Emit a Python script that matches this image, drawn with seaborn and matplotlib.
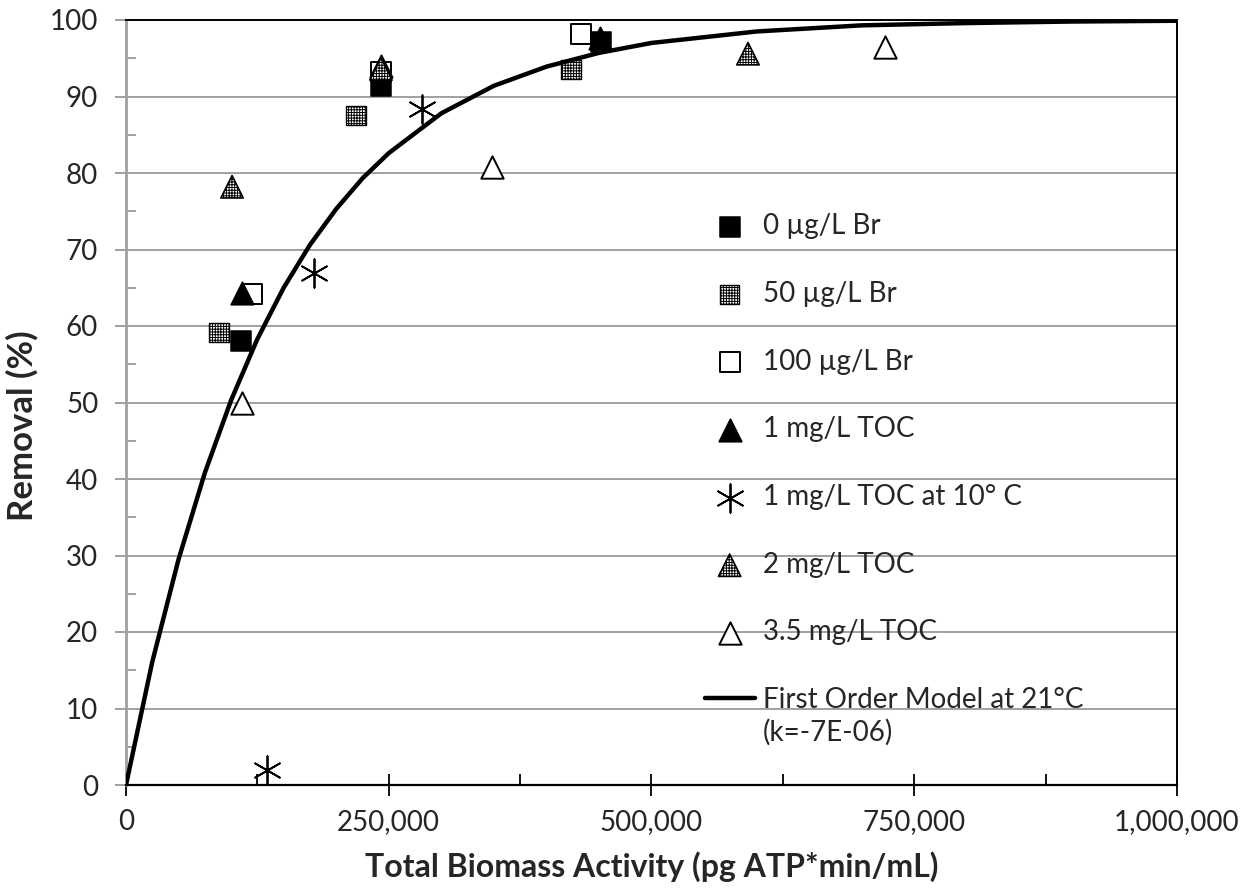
import numpy as np
import pandas as pd
import seaborn as sns
import matplotlib.pyplot as plt
from matplotlib.ticker import MultipleLocator, FuncFormatter

sns.set_style('white')
plt.rcParams['font.family'] = ['Lato', 'DejaVu Sans']
plt.rcParams['hatch.linewidth'] = 0.7

# Données
br0_x = [109400, 242600, 452000]
br0_y = [58.0, 91.4, 97.1]
br50_x = [88500, 218800, 423400]
br50_y = [59.2, 87.5, 93.5]
br100_x = [119900, 242600, 432900]
br100_y = [64.2, 93.2, 98.2]
toc1_x = [110400, 242600, 451000]
toc1_y = [64.3, 94.0, 97.6]
toc1_10c_x = [134200, 178900, 281600]
toc1_10c_y = [1.9, 66.9, 88.4]
toc2_x = [100900, 242600, 591800]
toc2_y = [78.2, 93.6, 95.6]
toc35_x = [110400, 348200, 722000]
toc35_y = [49.9, 80.8, 96.5]

# Modèle du premier ordre
model_x = [0, 25000, 50000, 75000, 100000, 125000, 150000, 175000, 200000, 225000,
           250000, 300000, 350000, 400000, 450000, 500000, 600000, 700000, 800000,
           900000, 1000000]
model_y = [0, 16.1, 29.5, 40.8, 50.3, 58.3, 65.0, 70.6, 75.3, 79.3,
           82.6, 87.8, 91.4, 93.9, 95.7, 97.0, 98.5, 99.3, 99.6, 99.8, 99.9]

fig = plt.figure(figsize=(12.46, 8.9), dpi=100)
ax = fig.add_axes([126 / 1246, 1 - 785 / 890, (1177 - 126) / 1246, (785 - 20) / 890])

ax.yaxis.grid(True, color='#a0a0a0', linewidth=1.4)
ax.set_axisbelow(True)

series = [
    (br0_x, br0_y, '0 µg/L Br', dict(marker='s', color='black', edgecolor='black', s=190)),
    (br50_x, br50_y, '50 µg/L Br', dict(marker='s', color='white', edgecolor='black', s=190, hatch='++++++', linewidth=1.0)),
    (br100_x, br100_y, '100 µg/L Br', dict(marker='s', color='white', edgecolor='black', s=190, linewidth=1.4)),
    (toc1_x, toc1_y, '1 mg/L TOC', dict(marker='^', color='black', edgecolor='black', s=260)),
    (toc1_10c_x, toc1_10c_y, '1 mg/L TOC at 10° C', dict(marker=(6, 2, 0), color='black', s=420, linewidth=1.3)),
    (toc2_x, toc2_y, '2 mg/L TOC', dict(marker='^', color='white', edgecolor='black', s=260, hatch='++++++', linewidth=1.2)),
    (toc35_x, toc35_y, '3.5 mg/L TOC', dict(marker='^', color='white', edgecolor='black', s=260, linewidth=1.4)),
]

for xs, ys, lab, kw in series:
    df = pd.DataFrame({'x': xs, 'y': ys})
    sns.scatterplot(data=df, x='x', y='y', ax=ax, label=lab, zorder=3, **kw)

dfm = pd.DataFrame({'x': model_x, 'y': model_y})
sns.lineplot(data=dfm, x='x', y='y', ax=ax, color='black', linewidth=3.2,
             label='First Order Model at 21°C', zorder=4)

ax.set_xlim(0, 1000000)
ax.set_ylim(0, 100)
ax.xaxis.set_major_locator(MultipleLocator(250000))
ax.xaxis.set_minor_locator(MultipleLocator(125000))
ax.yaxis.set_major_locator(MultipleLocator(10))
ax.yaxis.set_minor_locator(MultipleLocator(5))
ax.xaxis.set_major_formatter(FuncFormatter(lambda v, p: f'{int(v):,}'))

ax.tick_params(axis='x', which='major', direction='inout', length=16, width=1.3,
               color='black', labelsize=20, pad=9, bottom=True)
ax.tick_params(axis='x', which='minor', direction='in', length=8, width=1.3,
               color='black', bottom=True)
ax.tick_params(axis='y', which='major', direction='out', length=8, width=1.4,
               color='#a0a0a0', labelsize=20, pad=12, left=True)
ax.tick_params(axis='y', which='minor', direction='in', length=7, width=1.4,
               color='#a0a0a0', left=True)

for side in ['top', 'right', 'bottom']:
    ax.spines[side].set_color('black')
    ax.spines[side].set_linewidth(1.4)
ax.spines['bottom'].set_linewidth(1.6)
ax.spines['left'].set_color('#a0a0a0')
ax.spines['left'].set_linewidth(2.0)

ax.set_xlabel('Total Biomass Activity (pg ATP*min/mL)', fontsize=23, fontweight='bold', labelpad=12)
ax.set_ylabel('Removal (%)', fontsize=25, fontweight='bold')
ax.yaxis.set_label_coords(-0.083, 0.47)

leg = ax.legend(loc='upper left', bbox_to_anchor=(0.54, 0.762), frameon=False,
                fontsize=20, handlelength=1.8, handletextpad=0.3, labelspacing=1.5,
                borderaxespad=0, scatterpoints=1)

# deuxième ligne de la légende du modèle, sous le premier libellé
fig.canvas.draw()
bb = leg.get_texts()[-1].get_window_extent()
fig.text(bb.x0, bb.y0 - 6, '(k=-7E-06)', fontsize=20, ha='left', va='top',
         transform=None)

fig.savefig('out.png', dpi=100)
